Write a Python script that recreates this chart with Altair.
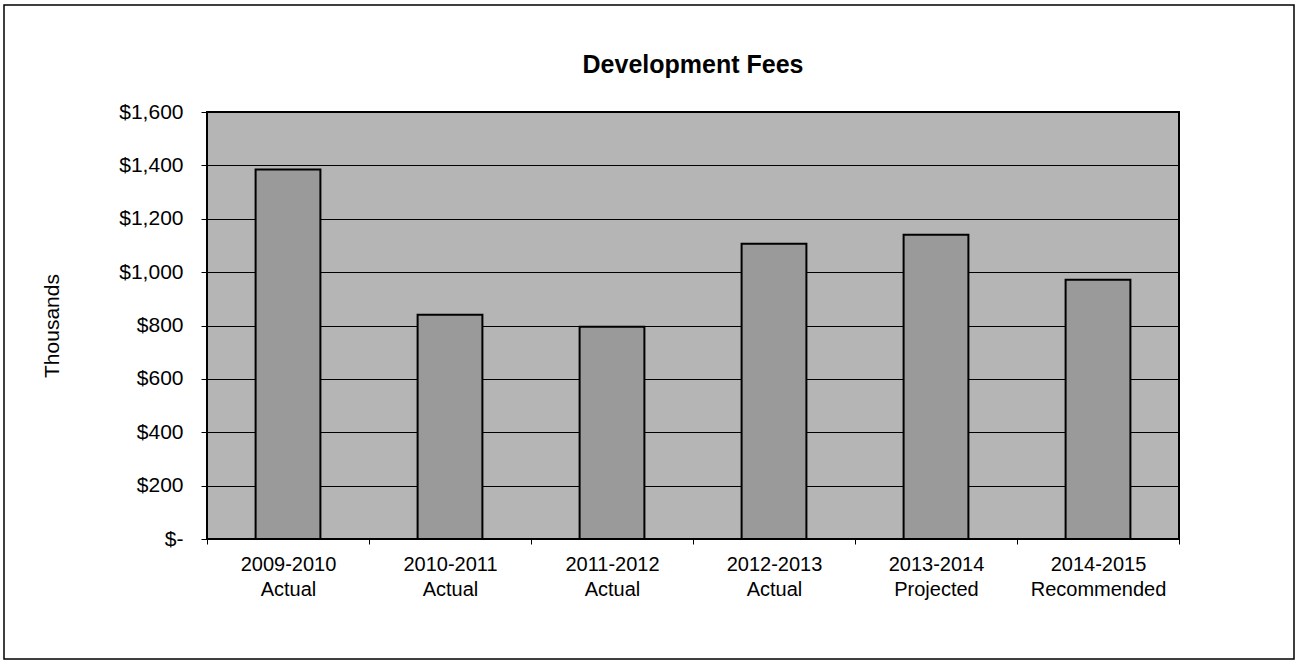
import altair as alt
import pandas as pd

periods = ["2009-2010", "2010-2011", "2011-2012", "2012-2013", "2013-2014", "2014-2015"]
statuses = ["Actual", "Actual", "Actual", "Actual", "Projected", "Recommended"]
fees = [1385, 840, 795, 1106, 1140, 971]
y_ticks = [0, 200, 400, 600, 800, 1000, 1200, 1400, 1600]
chart_title = "Development Fees"

df = pd.DataFrame({
    "label": [p + "|" + s for p, s in zip(periods, statuses)],
    "fees": fees,
})

W, H = 972, 427
FONT = "Liberation Sans"

bars = alt.Chart(df).mark_bar(
    color="#9a9a9a", stroke="black", strokeWidth=2,
    width=alt.RelativeBandSize(0.4),
).encode(
    x=alt.X("label:N", sort=None, title=None,
            scale=alt.Scale(paddingInner=0, paddingOuter=0),
            axis=alt.Axis(labelExpr="split(datum.label, '|')", labelAngle=0,
                          tickBand="extent", tickSize=5, tickColor="black",
                          labelFontSize=20, labelFont=FONT, labelColor="black",
                          labelPadding=10, labelLineHeight=25, domain=False, grid=False)),
    y=alt.Y("fees:Q", title="Thousands",
            scale=alt.Scale(domain=[0, 1600], nice=False),
            axis=alt.Axis(values=y_ticks,
                          labelExpr="datum.value == 0 ? '$-' : '$' + format(datum.value, ',')",
                          labelFontSize=21, labelFont=FONT, labelColor="black",
                          tickSize=6, tickColor="black", labelPadding=18,
                          grid=True, gridColor="black", gridWidth=1.2, gridOpacity=1,
                          domain=False,
                          titleFont=FONT, titleFontSize=21, titleFontWeight="normal",
                          titleColor="black", titleX=-155, titleY=H / 2,
                          titleAlign="center", titleBaseline="middle", titleAngle=-90)),
)

one = pd.DataFrame({"t": [chart_title]})

frame = alt.Chart(one).mark_rect(
    fill=None, stroke="black", strokeWidth=1.5
).encode(
    x=alt.value(-203), x2=alt.value(W + 115),
    y=alt.value(-107), y2=alt.value(H + 120),
)

title = alt.Chart(one).mark_text(
    font=FONT, fontSize=25, fontWeight="bold", color="black",
    align="center", baseline="alphabetic",
).encode(
    text="t:N", x=alt.value(W / 2), y=alt.value(-39),
)

chart = alt.layer(bars, frame, title).properties(
    width=W, height=H,
    autosize=alt.AutoSizeParams(type="none"),
    padding={"left": 207, "top": 112, "right": 1298 - 207 - W, "bottom": 666 - 112 - H},
).configure(background="white").configure_view(
    fill="#b5b5b5", stroke="black", strokeWidth=2
)

chart.save("out.html", embed_options={"renderer": "svg", "actions": False})
